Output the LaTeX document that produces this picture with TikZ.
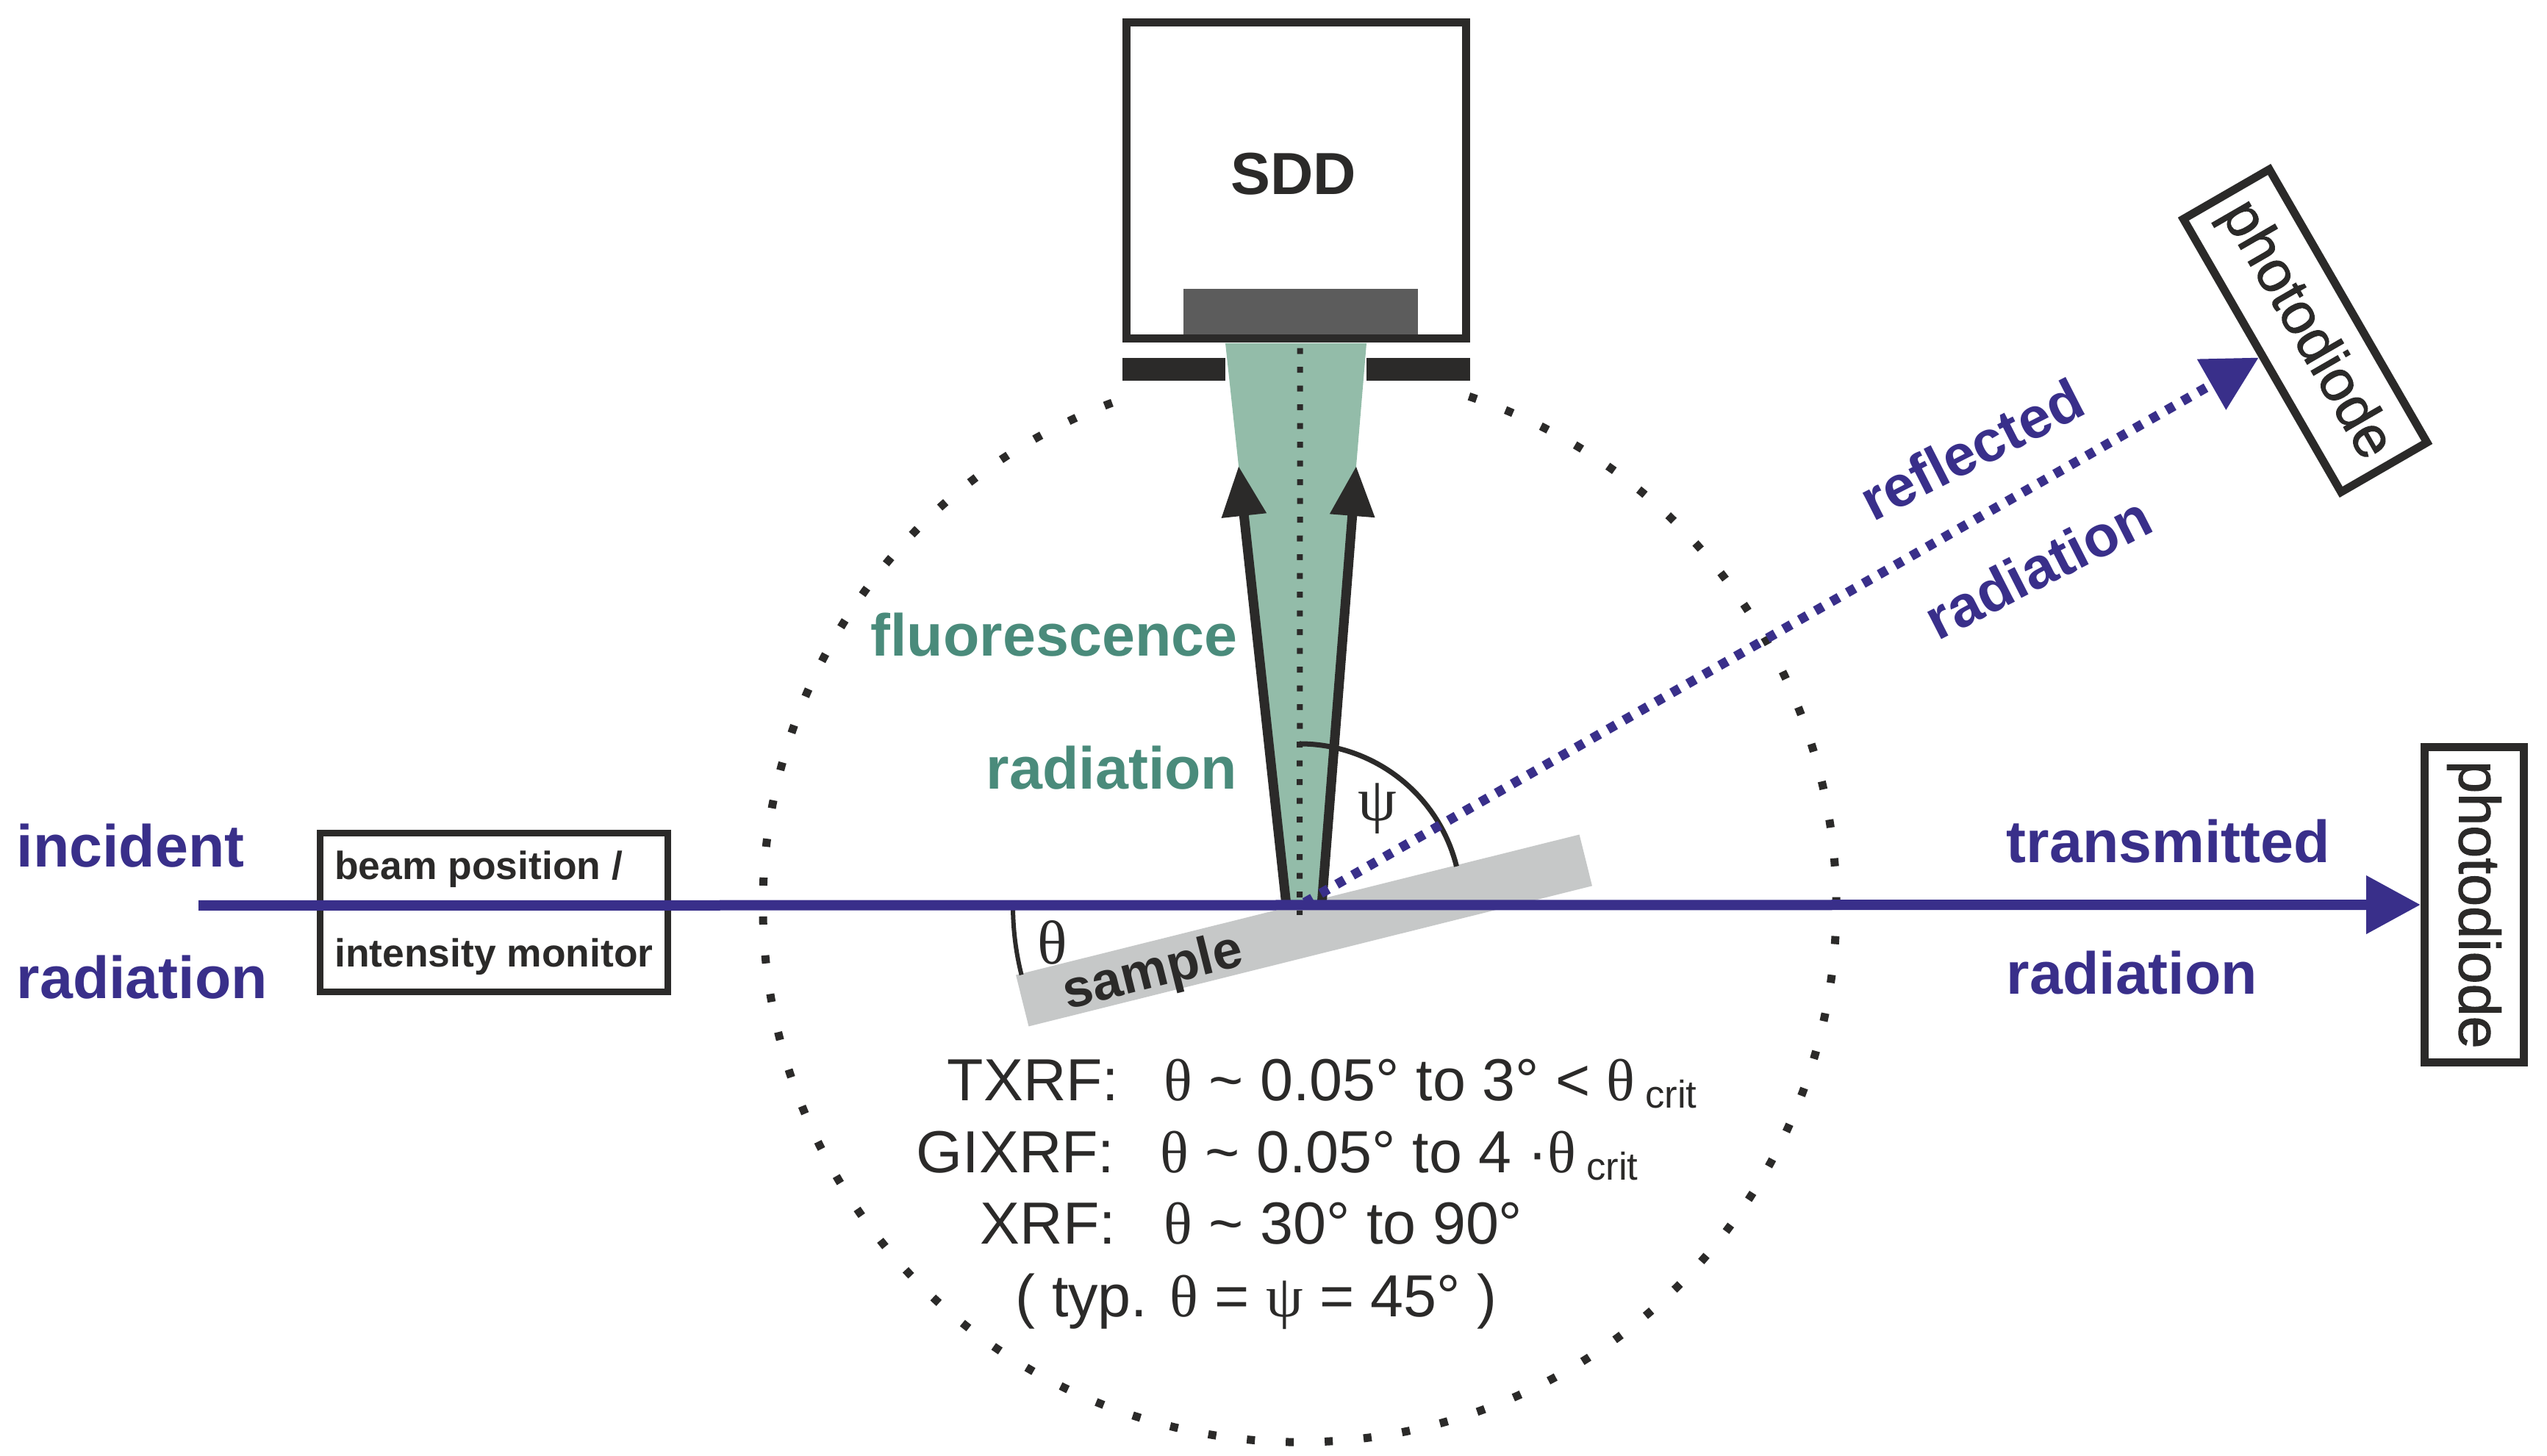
\documentclass[tikz,border=0pt]{standalone}
\usepackage{fontspec}
\setmainfont{Liberation Sans}
\newfontfamily\grk{Liberation Serif}
\newfontfamily\medsans[FakeBold=1.4]{Liberation Sans}
\usetikzlibrary{arrows.meta,calc}

\definecolor{beamblue}{HTML}{392F8A}
\definecolor{inkblack}{HTML}{2B2A29}
\definecolor{fluogreen}{HTML}{93BCA9}
\definecolor{fluotext}{HTML}{4A8B7B}
\definecolor{chipgrey}{HTML}{5C5C5C}
\definecolor{samplegrey}{HTML}{C6C8C8}

\newcommand{\thet}{{\grk θ}}
\newcommand{\psit}{{\grk ψ}}
\newcommand{\critt}{\,{\fontsize{15}{15}\selectfont\raisebox{-2.6pt}{crit}}}

\tikzstyle{bigbold}=[inner sep=0pt,font=\fontsize{23}{23}\selectfont\bfseries]
\tikzstyle{beamtext}=[bigbold,text=beamblue]
\tikzstyle{fluotxt}=[bigbold,text=fluotext,anchor=base east]
\tikzstyle{formula}=[inner sep=0pt,anchor=base west,text=inkblack,font=\fontsize{23}{23}\selectfont]
\tikzstyle{greek}=[inner sep=0pt,text=inkblack,font=\fontsize{24}{24}\selectfont]
\tikzstyle{diodebox}=[draw=inkblack,line width=.11cm,minimum width=4.29cm,minimum height=1.35cm,inner sep=0pt,
    text=inkblack,font=\fontsize{22.5}{22.5}\medsans]
\tikzstyle{solidbar}=[fill=inkblack,inner sep=0pt,minimum height=.31cm]
\tikzstyle{flowarrow}=[draw=inkblack,line width=.13cm,-{Triangle[length=.68cm,width=.58cm]}]
\tikzstyle{beam}=[draw=beamblue,line width=.14cm,-{Triangle[length=.74cm,width=.76cm]}]

\begin{document}
\begin{tikzpicture}

    \useasboundingbox (0,0) rectangle (34.65,19.81);

    \coordinate (apex) at (17.68,7.49);
    \coordinate (start) at (2.70,7.49);
    \coordinate (leftfoot) at (17.50,7.49);
    \coordinate (rightfoot) at (17.98,7.49);
    \coordinate (lefttip) at (16.85,13.47);
    \coordinate (righttip) at (18.45,13.47);

    % sample and detector
    \node[fill=samplegrey,rotate=14,inner sep=0pt,minimum width=7.9cm,minimum height=.72cm] (sample) at (17.74,7.15) {};
    \node[rotate=14,inner sep=0pt,text=inkblack,font=\fontsize{20.6}{20.6}\selectfont\bfseries] (sampletext) at (15.69,6.56) {sample};

    \fill[fluogreen] (16.67,15.14) -- (18.59,15.14) -- (righttip) -- (rightfoot) -- (leftfoot) -- (lefttip) -- cycle;

    \node[fill=chipgrey,inner sep=0pt,minimum width=3.19cm,minimum height=.67cm] (chip) at (17.695,15.545) {};
    \node[draw=inkblack,line width=.11cm,inner sep=0pt,minimum width=4.62cm,minimum height=4.30cm] (sdd) at (17.635,17.35) {};
    \node[bigbold,text=inkblack,anchor=base] (sddtext) at (17.60,17.16) {SDD};

    \foreach \pos/\name/\w in {{(15.97,14.785)/slitleft/1.40}, {(19.295,14.785)/slitright/1.41}}
        \node[solidbar,minimum width=\w cm] (\name) at \pos {};

    % dotted circle and axis
    \draw[inkblack,line width=.11cm,dash pattern=on .11cm off .42cm] (apex) ++(71.6:7.30) arc (71.6:-251.6:7.30);
    \draw[inkblack,line width=.08cm,dash pattern=on .08cm off .175cm] (slitleft.east |- chip.south) ++(1.01,-.13) -- ($(apex)+(0,-.13)$);

    % angles
    \draw[inkblack,line width=.06cm] (apex) ++(180:3.90) arc (180:194:3.90);
    \draw[inkblack,line width=.07cm] (apex) ++(90:2.20) arc (90:14:2.20);
    \node[greek] (thetalabel) at (14.32,6.99) {\thet};
    \node[greek] (psilabel) at (18.74,8.81) {\psit};

    \draw[flowarrow] (leftfoot) -- (lefttip);
    \draw[flowarrow] (rightfoot) -- (righttip);

    \node[fluotxt] (fluoone) at (16.84,10.88) {fluorescence};
    \node[fluotxt] (fluotwo) at (16.84,9.07) {radiation};

    % photodiodes
    \node[diodebox,rotate=-90] (diodeflat) at (33.66,7.50) {photodiode};
    \node[diodebox,rotate=-60] (diodetilt) at (31.36,15.31) {photodiode};

    % monitor box
    \node[draw=inkblack,line width=.09cm,minimum height=2.16cm,inner xsep=.20cm,inner ysep=0pt,
        align=left,text=inkblack,font=\fontsize{15.2}{33.9}\selectfont\bfseries] (monitor) at (6.72,7.39)
        {beam position /\\intensity monitor};

    % beams
    \draw[beam,line width=.13cm,dash pattern=on .12cm off .13cm] ($(apex)+(.07,.04)$) -- (diodetilt.south);
    \draw[beam] (start) -- (diodeflat.south);

    \node[beamtext,anchor=base west] (incident) at (.22,8.01) {incident};
    \node[beamtext,anchor=base west] (radin) at (.22,6.22) {radiation};
    \node[beamtext,anchor=base west] (transmitted) at (27.29,8.07) {transmitted};
    \node[beamtext,anchor=base west] (radout) at (27.29,6.28) {radiation};
    \node[beamtext,rotate=27,font=\fontsize{22.4}{22.4}\selectfont\bfseries] (reflected) at (26.82,13.70) {reflected};
    \node[beamtext,rotate=27,font=\fontsize{22.4}{22.4}\selectfont\bfseries] (radref) at (27.72,12.09) {radiation};

    % formulas
    \node[formula] (txrf) at (12.88,4.83) {TXRF:};
    \node[formula] (txrfval) at (15.83,4.83) {\thet{} \char`~{} 0.05° to 3° < \thet\critt};
    \node[formula] (gixrf) at (12.46,3.85) {GIXRF:};
    \node[formula] (gixrfval) at (15.78,3.85) {\thet{} \char`~{} 0.05° to 4 ·\thet\critt};
    \node[formula] (xrf) at (13.33,2.88) {XRF:};
    \node[formula] (xrfval) at (15.83,2.88) {\thet{} \char`~{} 30° to 90°};
    \node[formula] (typ) at (13.81,1.89) {( typ. \thet{} = \psit{} = 45° )};

\end{tikzpicture}
\end{document}
